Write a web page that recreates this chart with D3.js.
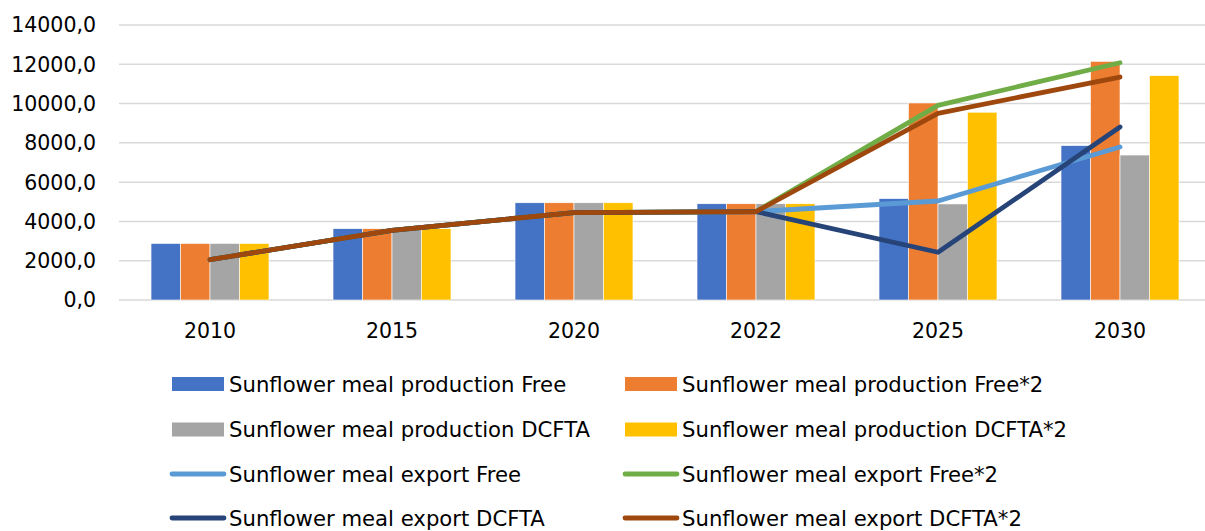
<!DOCTYPE html>
<html>
<head>
<meta charset="utf-8">
<script src="https://cdn.jsdelivr.net/npm/d3@7"></script>
<style>
  html, body { margin: 0; padding: 0; background: #fff; }
  svg { display: block; font-family: "DejaVu Sans", sans-serif; }
</style>
</head>
<body>
<svg id="chart" width="1205" height="531"></svg>
<script>
// Categories (years)
const years = ["2010", "2015", "2020", "2022", "2025", "2030"];

// Bar series: sunflower meal production
const prodFree   = [2880, 3630, 4950, 4900, 5160, 7860];
const prodFree2  = [2880, 3630, 4950, 4900, 10030, 12150];
const prodDcfta  = [2880, 3630, 4950, 4900, 4890, 7380];
const prodDcfta2 = [2880, 3630, 4950, 4900, 9560, 11420];

// Line series: sunflower meal export
const expFree   = [2050, 3550, 4450, 4500, 5040, 7790];
const expFree2  = [2050, 3550, 4450, 4500, 9910, 12080];
const expDcfta  = [2050, 3550, 4450, 4500, 2430, 8810];
const expDcfta2 = [2050, 3550, 4450, 4500, 9500, 11350];

// Y axis ticks
const yTicks = [0, 2000, 4000, 6000, 8000, 10000, 12000, 14000];

const barSeries = [
  { name: "Sunflower meal production Free",    values: prodFree,   color: "#4472C4" },
  { name: "Sunflower meal production Free*2",  values: prodFree2,  color: "#ED7D31" },
  { name: "Sunflower meal production DCFTA",   values: prodDcfta,  color: "#A5A5A5" },
  { name: "Sunflower meal production DCFTA*2", values: prodDcfta2, color: "#FFC000" }
];
const lineSeries = [
  { name: "Sunflower meal export Free",    values: expFree,   color: "#5B9BD5" },
  { name: "Sunflower meal export Free*2",  values: expFree2,  color: "#70AD47" },
  { name: "Sunflower meal export DCFTA",   values: expDcfta,  color: "#264478" },
  { name: "Sunflower meal export DCFTA*2", values: expDcfta2, color: "#9E480E" }
];

const svg = d3.select("#chart");
const plotLeft = 119, plotRight = 1211, plotTop = 25, plotBottom = 300;

const x0 = d3.scaleBand().domain(years).range([plotLeft, plotRight])
  .paddingInner(0.352).paddingOuter(0.176);
const x1 = d3.scaleBand().domain(d3.range(barSeries.length))
  .range([0, x0.bandwidth()]);
const y = d3.scaleLinear().domain([0, 14000]).range([plotBottom, plotTop]);

// Gridlines
svg.append("g")
  .selectAll("line").data(yTicks).join("line")
  .attr("x1", plotLeft).attr("x2", plotRight)
  .attr("y1", d => y(d)).attr("y2", d => y(d))
  .attr("stroke", "#D9D9D9").attr("stroke-width", 1.5);

// Y axis labels
const fmt = d => d3.format("d")(d) + ",0";
svg.append("g")
  .selectAll("text").data(yTicks).join("text")
  .attr("x", 96).attr("y", d => y(d))
  .attr("dy", "0.36em").attr("text-anchor", "end")
  .attr("font-size", 20.5).attr("fill", "#000")
  .text(fmt);

// X axis labels
svg.append("g")
  .selectAll("text").data(years).join("text")
  .attr("x", d => x0(d) + x0.bandwidth() / 2).attr("y", 331)
  .attr("dy", "0.36em").attr("text-anchor", "middle")
  .attr("font-size", 20.5).attr("fill", "#000")
  .text(d => d);

// Bars
const barG = svg.append("g");
barSeries.forEach((s, i) => {
  barG.append("g").selectAll("rect").data(years).join("rect")
    .attr("x", (d) => x0(d) + x1(i))
    .attr("width", x1.bandwidth())
    .attr("y", (d, j) => y(s.values[j]))
    .attr("height", (d, j) => y(0) - y(s.values[j]))
    .attr("fill", s.color)
    .attr("stroke", "#fff").attr("stroke-width", 0.6);
});

// Lines
const line = d3.line()
  .x((d, j) => x0(years[j]) + x0.bandwidth() / 2)
  .y(d => y(d));
lineSeries.forEach(s => {
  svg.append("path").datum(s.values)
    .attr("d", line)
    .attr("fill", "none").attr("stroke", s.color)
    .attr("stroke-width", 4.8)
    .attr("stroke-linejoin", "round").attr("stroke-linecap", "round");
});

// Legend
const legendItems = [
  { s: barSeries[0], type: "bar" }, { s: barSeries[1], type: "bar" },
  { s: barSeries[2], type: "bar" }, { s: barSeries[3], type: "bar" },
  { s: lineSeries[0], type: "line" }, { s: lineSeries[1], type: "line" },
  { s: lineSeries[2], type: "line" }, { s: lineSeries[3], type: "line" }
];
const colX = [172, 625];
const rowY = [384, 429.5, 474, 518];
const lg = svg.append("g");
legendItems.forEach((it, k) => {
  const cx = colX[k % 2], cy = rowY[Math.floor(k / 2)];
  if (it.type === "bar") {
    lg.append("rect").attr("x", cx).attr("y", cy - 7)
      .attr("width", 52).attr("height", 14).attr("fill", it.s.color);
  } else {
    lg.append("line").attr("x1", cx).attr("x2", cx + 52)
      .attr("y1", cy).attr("y2", cy)
      .attr("stroke", it.s.color).attr("stroke-width", 4.8)
      .attr("stroke-linecap", "round");
  }
  lg.append("text").attr("x", cx + 57).attr("y", cy)
    .attr("dy", "0.36em").attr("font-size", 21.2).attr("fill", "#000")
    .text(it.s.name);
});
</script>
</body>
</html>
